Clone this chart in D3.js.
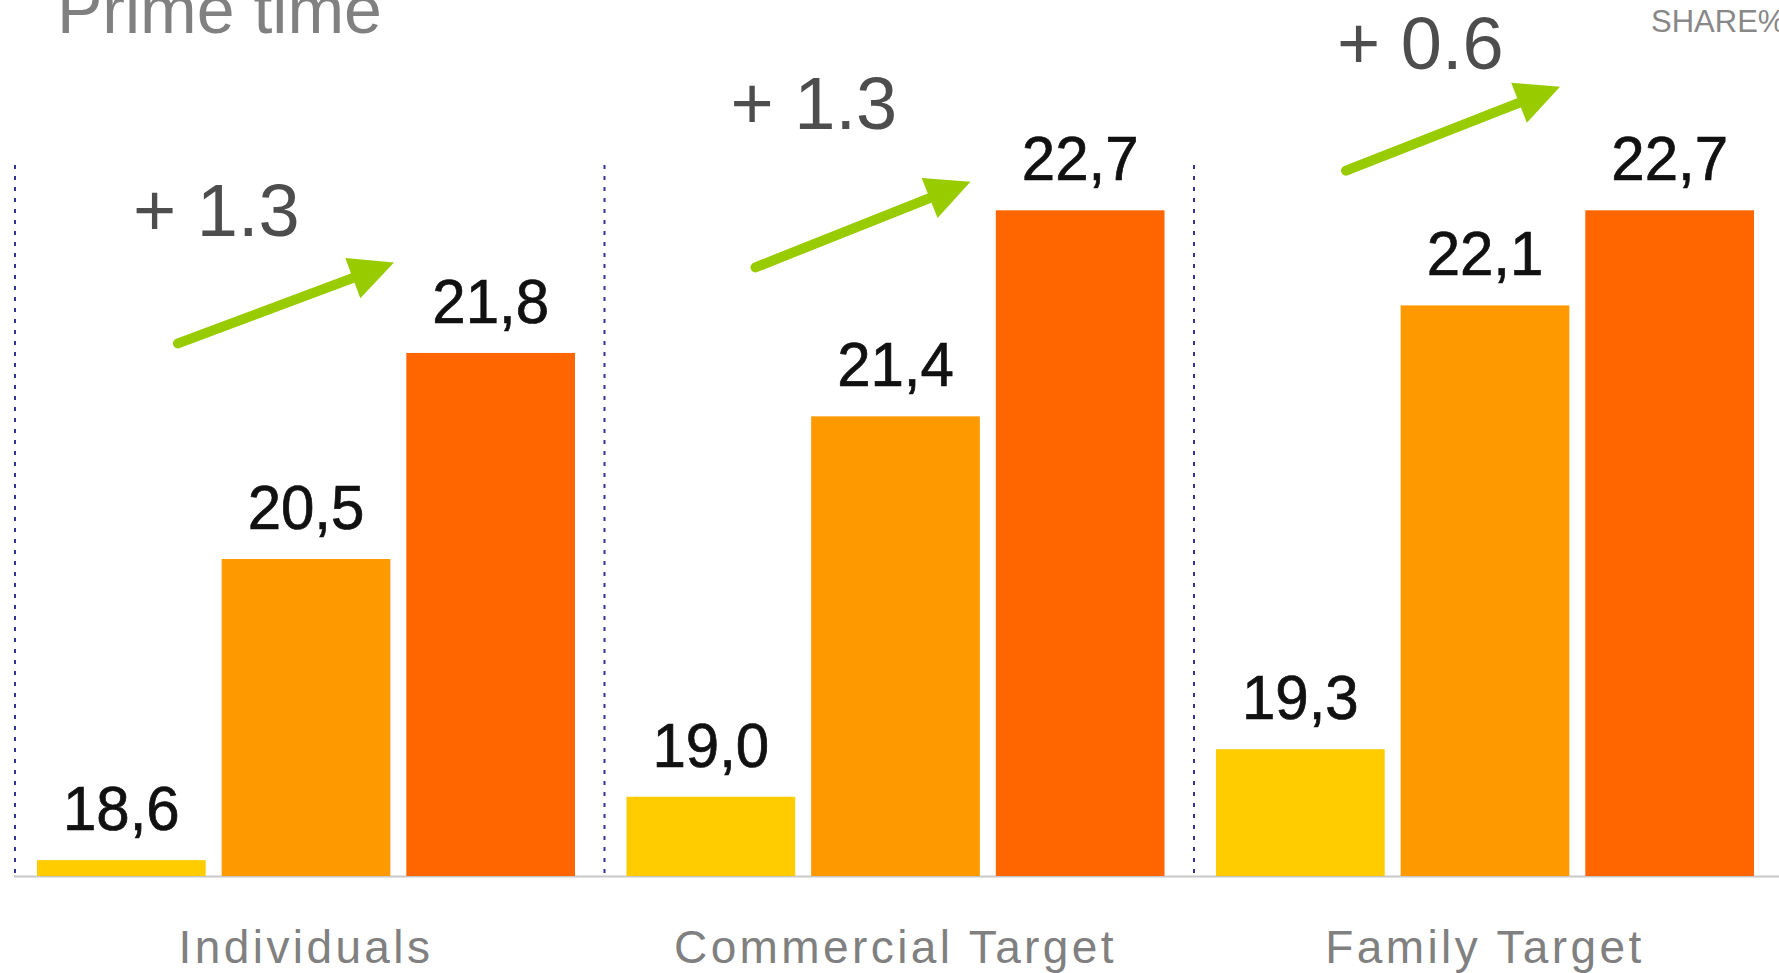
<!DOCTYPE html>
<html>
<head>
<meta charset="utf-8">
<script src="https://cdn.jsdelivr.net/npm/d3@7"></script>
<style>
    html, body { margin: 0; padding: 0; background: #fff; overflow: hidden; }
    svg { display: block; font-family: "Liberation Sans", Arial, sans-serif; }
</style>
</head>
<body>
<div id="chart"></div>
<script>
"use strict"

// Chart data
const categories = ["Individuals", "Commercial Target", "Family Target"]
const periods = ["p1", "p2", "p3"]
const shares = [
    [18.6, 20.5, 21.8],
    [19.0, 21.4, 22.7],
    [19.3, 22.1, 22.7]
]
const deltas = ["+ 1.3", "+ 1.3", "+ 0.6"]
const colors = ["#FFCC00", "#FF9900", "#FF6600"]

// Annotation layout: px offset from the group start, y in share units
const notes = [
    { tx: 119, tv: 22.54, x0: 164, v0: 21.86, x1: 380, v1: 22.37 },
    { tx: 127, tv: 23.21, x0: 152, v0: 22.34, x1: 367, v1: 22.88 },
    { tx: 144, tv: 23.59, x0: 153, v0: 22.95, x1: 367, v1: 23.48 }
]

const width = 1779, height = 973
const baseY = 876

const svg = d3.select("#chart").append("svg")
    .attr("width", width)
    .attr("height", height)

const x0 = d3.scaleBand().domain(categories).range([14, 14 + 589.5 * 3])
const x1 = d3.scaleBand().domain(periods).range([23, 561]).paddingInner(16 / 185)
const y = d3.scaleLinear().domain([18.5, 23]).range([baseY, baseY - 4.5 * 158.5])

const fmt = v => v.toFixed(1).replace(".", ",")

// title & unit
svg.append("text")
    .attr("x", 57).attr("y", 33)
    .style("font-size", "68px").style("fill", "#808080")
    .text("Prime time")
svg.append("text")
    .attr("x", 1651).attr("y", 32)
    .style("font-size", "31px").style("fill", "#888888")
    .text("SHARE%")

// dotted separators
svg.selectAll(".sep")
    .data(categories)
    .enter().append("line")
    .attr("class", "sep")
    .attr("x1", d => x0(d) + 1).attr("x2", d => x0(d) + 1)
    .attr("y1", 165).attr("y2", baseY)
    .attr("stroke", "#333399")
    .attr("stroke-width", 2)
    .attr("stroke-dasharray", "4,7")

// baseline
svg.append("line")
    .attr("x1", 14).attr("x2", width)
    .attr("y1", baseY + 0.5).attr("y2", baseY + 0.5)
    .attr("stroke", "#c8c8c8").attr("stroke-width", 2)

const groups = svg.selectAll(".grp")
    .data(categories)
    .enter().append("g")
    .attr("class", "grp")
    .attr("transform", d => `translate(${x0(d)},0)`)

groups.selectAll("rect")
    .data((d, i) => shares[i].map((v, j) => ({ v, p: periods[j], c: colors[j] })))
    .enter().append("rect")
    .attr("x", d => x1(d.p))
    .attr("width", x1.bandwidth())
    .attr("y", d => y(d.v))
    .attr("height", d => baseY - y(d.v))
    .attr("fill", d => d.c)

groups.selectAll(".val")
    .data((d, i) => shares[i].map((v, j) => ({ v, p: periods[j] })))
    .enter().append("text")
    .attr("class", "val")
    .attr("text-anchor", "middle")
    .attr("transform", d => `translate(${x1(d.p) + x1.bandwidth() / 2},${y(d.v) - 30}) scale(1,1.05)`)
    .style("font-size", "60px").style("fill", "#111")
    .style("stroke", "#111").style("stroke-width", 0.7)
    .text(d => fmt(d.v))

// category labels
groups.append("text")
    .attr("x", (x1.range()[0] + x1.range()[1]) / 2)
    .attr("y", 963)
    .attr("text-anchor", "middle")
    .style("font-size", "46px").style("fill", "#808080")
    .style("letter-spacing", "3.4px")
    .text(d => d)

// delta annotations
groups.append("text")
    .attr("x", (d, i) => notes[i].tx)
    .attr("y", (d, i) => y(notes[i].tv))
    .style("font-size", "74px").style("fill", "#4d4d4d")
    .text((d, i) => deltas[i])

const headLen = 44, headW = 43
groups.each(function (d, i) {
    const n = notes[i]
    const ax = n.x0, ay = y(n.v0), bx = n.x1, by = y(n.v1)
    const len = Math.hypot(bx - ax, by - ay)
    const ux = (bx - ax) / len, uy = (by - ay) / len
    const mx = bx - ux * headLen, my = by - uy * headLen
    const g = d3.select(this)
    g.append("line")
        .attr("x1", ax).attr("y1", ay)
        .attr("x2", mx + ux * 4).attr("y2", my + uy * 4)
        .attr("stroke", "#99CC00").attr("stroke-width", 10)
        .attr("stroke-linecap", "round")
    g.append("path")
        .attr("d", d3.line()([
            [bx, by],
            [mx - uy * headW / 2, my + ux * headW / 2],
            [mx + uy * headW / 2, my - ux * headW / 2]
        ]) + "Z")
        .attr("fill", "#99CC00")
})
</script>
</body>
</html>
